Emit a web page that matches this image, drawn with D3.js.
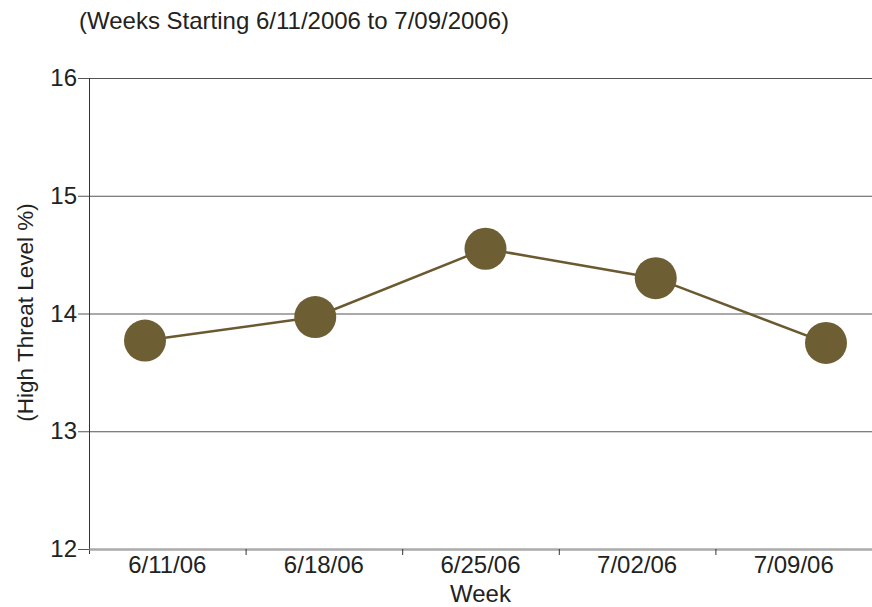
<!DOCTYPE html>
<html>
<head>
<meta charset="utf-8">
<script src="https://cdn.jsdelivr.net/npm/d3@7"></script>
<style>
  body { margin: 0; background: #fff; }
  svg { display: block; font-family: "Liberation Sans", Arial, sans-serif; }
</style>
</head>
<body>
<div id="chart"></div>
<script>
// chart data
let weeks = ["6/11/06", "6/18/06", "6/25/06", "7/02/06", "7/09/06"];
let threat = [13.77, 13.97, 14.55, 14.30, 13.75];
let y_ticks = [12, 13, 14, 15, 16];
let title_text = "(Weeks Starting 6/11/2006 to 7/09/2006)";

let width = 872, height = 607;
let margin = ({top: 78, right: 0, bottom: 58, left: 89});

let svg = d3.select("#chart").append("svg")
    .attr("width", width)
    .attr("height", height);

let x = d3.scaleBand()
    .domain(weeks)
    .range([margin.left, width - margin.right]);

// the dots are spread a bit wider than the category bands
let xp = d3.scalePoint()
    .domain(weeks)
    .range([margin.left + 56, width - margin.right - 46]);

let y = d3.scaleLinear()
    .domain([12, 16])
    .range([height - margin.bottom, margin.top]);

// title
svg.append("text")
    .attr("x", 79)
    .attr("y", 29)
    .attr("font-size", 24)
    .attr("fill", "#222")
    .text(title_text);

// grid lines + y axis
let y_axis = g => g
    .attr("transform", `translate(${margin.left}, 0)`)
    .call(d3.axisLeft(y).tickValues(y_ticks).tickSize(-(width - margin.left - margin.right)).tickPadding(12).tickFormat(d3.format("d")))
    .call(g => g.select(".domain").remove())
    .call(g => g.selectAll(".tick line").attr("stroke", "#555").attr("stroke-width", 1).attr("x1", -11))
    .call(g => g.selectAll(".tick text").attr("font-size", 24).attr("fill", "#222").attr("font-family", null));
svg.append("g").call(y_axis);

// vertical axis line
svg.append("line")
    .attr("x1", margin.left + 0.5).attr("x2", margin.left + 0.5)
    .attr("y1", y(16)).attr("y2", y(12) + 5)
    .attr("stroke", "#333");

// bottom axis
let x_axis = g => g
    .attr("transform", `translate(0, ${height - margin.bottom})`)
    .call(d3.axisBottom(x).tickSize(0).tickPadding(7))
    .call(g => g.select(".domain").attr("stroke", "#aaa").attr("stroke-width", 2.5))
    .call(g => g.selectAll(".tick text").attr("font-size", 24).attr("fill", "#222").attr("font-family", null));
svg.append("g").call(x_axis);

// category separators on the bottom axis
svg.append("g")
    .selectAll("line")
    .data(weeks.slice(1))
    .join("line")
    .attr("x1", d => x(d) + 0.5)
    .attr("x2", d => x(d) + 0.5)
    .attr("y1", y(12))
    .attr("y2", y(12) + 6)
    .attr("stroke", "#333");

// axis titles
svg.append("text")
    .attr("x", x.range()[0] + (x.range()[1] - x.range()[0]) / 2)
    .attr("y", 602)
    .attr("text-anchor", "middle")
    .attr("font-size", 24)
    .attr("fill", "#222")
    .text("Week");

svg.append("text")
    .attr("transform", `translate(33, ${(y(16) + y(12)) / 2 - 1}) rotate(-90)`)
    .attr("text-anchor", "middle")
    .attr("font-size", 22.5)
    .attr("fill", "#222")
    .text("(High Threat Level %)");

// series
let data = weeks.map((w, i) => ({week: w, value: threat[i]}));

let line = d3.line()
    .x(d => xp(d.week))
    .y(d => y(d.value));

svg.append("path")
    .datum(data)
    .attr("fill", "none")
    .attr("stroke", "#6b5a30")
    .attr("stroke-width", 2.5)
    .attr("d", line);

svg.append("g")
    .selectAll("circle")
    .data(data)
    .join("circle")
    .attr("cx", d => xp(d.week))
    .attr("cy", d => y(d.value))
    .attr("r", 21)
    .attr("fill", "#6e5e34");
</script>
</body>
</html>
